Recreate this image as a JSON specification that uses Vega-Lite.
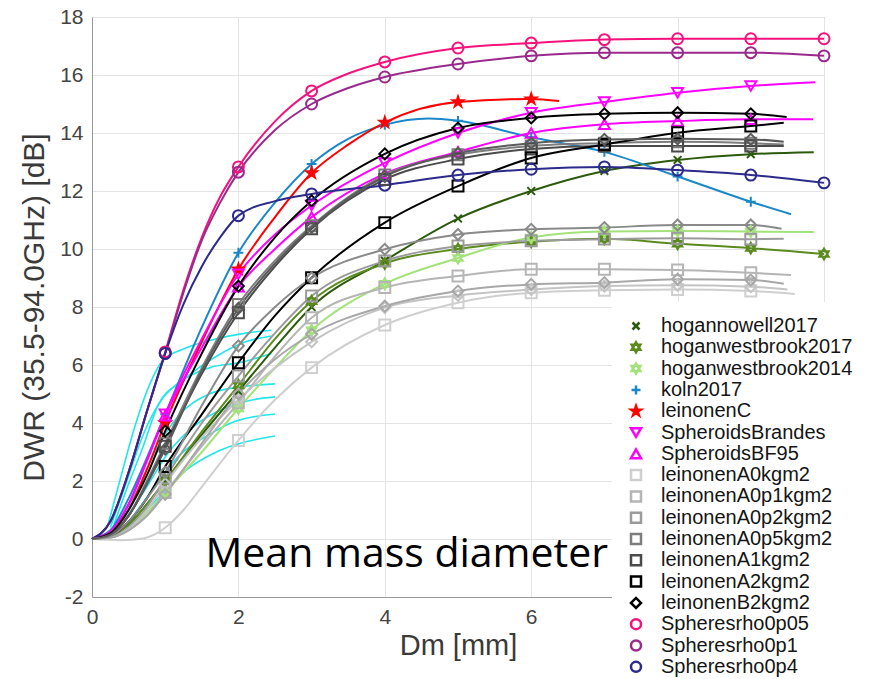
{
"$schema": "https://vega.github.io/schema/vega-lite/v6.json",
"width": 732, "height": 580,
"autosize": {"type": "none"},
"padding": {"left": 92, "top": 17, "right": 49, "bottom": 82},
"background": "white",
"config": {"view": {"stroke": "#a8a8a8", "strokeWidth": 1},
 "legend": {"orient": "none", "legendX": 520, "legendY": 285, "fillColor": "white", "padding": 14,
  "labelFont": "Liberation Sans", "labelFontSize": 20, "labelColor": "#151515", "labelOffset": 15, "labelLimit": 400,
  "symbolSize": 100, "symbolStrokeWidth": 2.5, "rowPadding": 1.3}},
"datasets": {
"curves": [
{"series":"hogannowell2017","Dm":0,"DWR":0},{"series":"hogannowell2017","Dm":0.25,"DWR":0.1},{"series":"hogannowell2017","Dm":0.5,"DWR":0.5},{"series":"hogannowell2017","Dm":0.75,"DWR":1.2},{"series":"hogannowell2017","Dm":1,"DWR":2.0},{"series":"hogannowell2017","Dm":1.5,"DWR":3.6},{"series":"hogannowell2017","Dm":2,"DWR":5.1},{"series":"hogannowell2017","Dm":2.5,"DWR":6.6},{"series":"hogannowell2017","Dm":3,"DWR":8.0},{"series":"hogannowell2017","Dm":4,"DWR":9.6},{"series":"hogannowell2017","Dm":5,"DWR":11.05},{"series":"hogannowell2017","Dm":6,"DWR":12.0},{"series":"hogannowell2017","Dm":7,"DWR":12.69},{"series":"hogannowell2017","Dm":8,"DWR":13.07},{"series":"hogannowell2017","Dm":9,"DWR":13.27},{"series":"hogannowell2017","Dm":9.86,"DWR":13.34},
{"series":"hoganwestbrook2017","Dm":0,"DWR":0},{"series":"hoganwestbrook2017","Dm":0.25,"DWR":0.1},{"series":"hoganwestbrook2017","Dm":0.5,"DWR":0.5},{"series":"hoganwestbrook2017","Dm":0.75,"DWR":1.2},{"series":"hoganwestbrook2017","Dm":1,"DWR":2.0},{"series":"hoganwestbrook2017","Dm":1.5,"DWR":3.7},{"series":"hoganwestbrook2017","Dm":2,"DWR":5.3},{"series":"hoganwestbrook2017","Dm":2.5,"DWR":6.9},{"series":"hoganwestbrook2017","Dm":3,"DWR":8.2},{"series":"hoganwestbrook2017","Dm":4,"DWR":9.5},{"series":"hoganwestbrook2017","Dm":5,"DWR":10.0},{"series":"hoganwestbrook2017","Dm":6,"DWR":10.25},{"series":"hoganwestbrook2017","Dm":7,"DWR":10.35},{"series":"hoganwestbrook2017","Dm":8,"DWR":10.18},{"series":"hoganwestbrook2017","Dm":9,"DWR":10.03},{"series":"hoganwestbrook2017","Dm":10,"DWR":9.83},
{"series":"hoganwestbrook2014","Dm":0,"DWR":0},{"series":"hoganwestbrook2014","Dm":0.25,"DWR":0.05},{"series":"hoganwestbrook2014","Dm":0.5,"DWR":0.35},{"series":"hoganwestbrook2014","Dm":0.75,"DWR":0.9},{"series":"hoganwestbrook2014","Dm":1,"DWR":1.6},{"series":"hoganwestbrook2014","Dm":1.5,"DWR":3.0},{"series":"hoganwestbrook2014","Dm":2,"DWR":4.5},{"series":"hoganwestbrook2014","Dm":2.5,"DWR":5.9},{"series":"hoganwestbrook2014","Dm":3,"DWR":7.2},{"series":"hoganwestbrook2014","Dm":4,"DWR":8.8},{"series":"hoganwestbrook2014","Dm":5,"DWR":9.69},{"series":"hoganwestbrook2014","Dm":6,"DWR":10.4},{"series":"hoganwestbrook2014","Dm":7,"DWR":10.6},{"series":"hoganwestbrook2014","Dm":8,"DWR":10.62},{"series":"hoganwestbrook2014","Dm":9,"DWR":10.6},{"series":"hoganwestbrook2014","Dm":9.86,"DWR":10.59},
{"series":"koln2017","Dm":0,"DWR":0},{"series":"koln2017","Dm":0.25,"DWR":0.3},{"series":"koln2017","Dm":0.5,"DWR":1.4},{"series":"koln2017","Dm":0.75,"DWR":2.8},{"series":"koln2017","Dm":1,"DWR":4.3},{"series":"koln2017","Dm":1.5,"DWR":7.3},{"series":"koln2017","Dm":2,"DWR":9.87},{"series":"koln2017","Dm":2.5,"DWR":11.6},{"series":"koln2017","Dm":3,"DWR":12.93},{"series":"koln2017","Dm":3.5,"DWR":13.8},{"series":"koln2017","Dm":4,"DWR":14.28},{"series":"koln2017","Dm":4.6,"DWR":14.5},{"series":"koln2017","Dm":5,"DWR":14.42},{"series":"koln2017","Dm":6,"DWR":13.85},{"series":"koln2017","Dm":7,"DWR":13.35},{"series":"koln2017","Dm":8,"DWR":12.5},{"series":"koln2017","Dm":9,"DWR":11.63},{"series":"koln2017","Dm":9.55,"DWR":11.2},
{"series":"leinonenC","Dm":0,"DWR":0},{"series":"leinonenC","Dm":0.25,"DWR":0.2},{"series":"leinonenC","Dm":0.5,"DWR":1.0},{"series":"leinonenC","Dm":0.75,"DWR":2.4},{"series":"leinonenC","Dm":1,"DWR":4.0},{"series":"leinonenC","Dm":1.5,"DWR":6.8},{"series":"leinonenC","Dm":2,"DWR":9.3},{"series":"leinonenC","Dm":2.5,"DWR":11.1},{"series":"leinonenC","Dm":3,"DWR":12.62},{"series":"leinonenC","Dm":3.5,"DWR":13.6},{"series":"leinonenC","Dm":4,"DWR":14.36},{"series":"leinonenC","Dm":5,"DWR":15.07},{"series":"leinonenC","Dm":6,"DWR":15.17},{"series":"leinonenC","Dm":6.38,"DWR":15.1},
{"series":"SpheroidsBrandes","Dm":0,"DWR":0},{"series":"SpheroidsBrandes","Dm":0.25,"DWR":0.25},{"series":"SpheroidsBrandes","Dm":0.5,"DWR":1.2},{"series":"SpheroidsBrandes","Dm":0.75,"DWR":2.7},{"series":"SpheroidsBrandes","Dm":1,"DWR":4.3},{"series":"SpheroidsBrandes","Dm":1.5,"DWR":6.9},{"series":"SpheroidsBrandes","Dm":2,"DWR":9.13},{"series":"SpheroidsBrandes","Dm":2.5,"DWR":10.5},{"series":"SpheroidsBrandes","Dm":3,"DWR":11.5},{"series":"SpheroidsBrandes","Dm":4,"DWR":12.97},{"series":"SpheroidsBrandes","Dm":5,"DWR":14.0},{"series":"SpheroidsBrandes","Dm":6,"DWR":14.7},{"series":"SpheroidsBrandes","Dm":7,"DWR":15.07},{"series":"SpheroidsBrandes","Dm":8,"DWR":15.39},{"series":"SpheroidsBrandes","Dm":9,"DWR":15.62},{"series":"SpheroidsBrandes","Dm":9.88,"DWR":15.75},
{"series":"SpheroidsBF95","Dm":0,"DWR":0},{"series":"SpheroidsBF95","Dm":0.25,"DWR":0.25},{"series":"SpheroidsBF95","Dm":0.5,"DWR":1.2},{"series":"SpheroidsBF95","Dm":0.75,"DWR":2.7},{"series":"SpheroidsBF95","Dm":1,"DWR":4.25},{"series":"SpheroidsBF95","Dm":1.5,"DWR":6.6},{"series":"SpheroidsBF95","Dm":2,"DWR":8.7},{"series":"SpheroidsBF95","Dm":2.5,"DWR":10.0},{"series":"SpheroidsBF95","Dm":3,"DWR":11.1},{"series":"SpheroidsBF95","Dm":4,"DWR":12.6},{"series":"SpheroidsBF95","Dm":5,"DWR":13.35},{"series":"SpheroidsBF95","Dm":6,"DWR":14.0},{"series":"SpheroidsBF95","Dm":7,"DWR":14.3},{"series":"SpheroidsBF95","Dm":8,"DWR":14.41},{"series":"SpheroidsBF95","Dm":9,"DWR":14.47},{"series":"SpheroidsBF95","Dm":9.85,"DWR":14.47},
{"series":"leinonenA0kgm2","Dm":0,"DWR":0},{"series":"leinonenA0kgm2","Dm":0.4,"DWR":-0.04},{"series":"leinonenA0kgm2","Dm":0.7,"DWR":0.02},{"series":"leinonenA0kgm2","Dm":0.85,"DWR":0.15},{"series":"leinonenA0kgm2","Dm":1,"DWR":0.39},{"series":"leinonenA0kgm2","Dm":1.25,"DWR":1.0},{"series":"leinonenA0kgm2","Dm":1.5,"DWR":1.8},{"series":"leinonenA0kgm2","Dm":2,"DWR":3.4},{"series":"leinonenA0kgm2","Dm":2.5,"DWR":4.8},{"series":"leinonenA0kgm2","Dm":3,"DWR":5.91},{"series":"leinonenA0kgm2","Dm":4,"DWR":7.38},{"series":"leinonenA0kgm2","Dm":5,"DWR":8.15},{"series":"leinonenA0kgm2","Dm":6,"DWR":8.49},{"series":"leinonenA0kgm2","Dm":7,"DWR":8.58},{"series":"leinonenA0kgm2","Dm":8,"DWR":8.6},{"series":"leinonenA0kgm2","Dm":9,"DWR":8.55},{"series":"leinonenA0kgm2","Dm":9.6,"DWR":8.45},
{"series":"leinonenA0p1kgm2","Dm":0,"DWR":0},{"series":"leinonenA0p1kgm2","Dm":0.25,"DWR":0.05},{"series":"leinonenA0p1kgm2","Dm":0.5,"DWR":0.3},{"series":"leinonenA0p1kgm2","Dm":0.75,"DWR":0.8},{"series":"leinonenA0p1kgm2","Dm":1,"DWR":1.6},{"series":"leinonenA0p1kgm2","Dm":1.5,"DWR":3.2},{"series":"leinonenA0p1kgm2","Dm":2,"DWR":4.7},{"series":"leinonenA0p1kgm2","Dm":2.5,"DWR":6.3},{"series":"leinonenA0p1kgm2","Dm":3,"DWR":7.63},{"series":"leinonenA0p1kgm2","Dm":4,"DWR":8.67},{"series":"leinonenA0p1kgm2","Dm":5,"DWR":9.07},{"series":"leinonenA0p1kgm2","Dm":6,"DWR":9.3},{"series":"leinonenA0p1kgm2","Dm":7,"DWR":9.3},{"series":"leinonenA0p1kgm2","Dm":8,"DWR":9.28},{"series":"leinonenA0p1kgm2","Dm":9,"DWR":9.18},{"series":"leinonenA0p1kgm2","Dm":9.55,"DWR":9.1},
{"series":"leinonenA0p2kgm2","Dm":0,"DWR":0},{"series":"leinonenA0p2kgm2","Dm":0.25,"DWR":0.07},{"series":"leinonenA0p2kgm2","Dm":0.5,"DWR":0.4},{"series":"leinonenA0p2kgm2","Dm":0.75,"DWR":1.1},{"series":"leinonenA0p2kgm2","Dm":1,"DWR":2.1},{"series":"leinonenA0p2kgm2","Dm":1.5,"DWR":4.0},{"series":"leinonenA0p2kgm2","Dm":2,"DWR":5.62},{"series":"leinonenA0p2kgm2","Dm":2.5,"DWR":7.1},{"series":"leinonenA0p2kgm2","Dm":3,"DWR":8.38},{"series":"leinonenA0p2kgm2","Dm":4,"DWR":9.59},{"series":"leinonenA0p2kgm2","Dm":5,"DWR":10.1},{"series":"leinonenA0p2kgm2","Dm":6,"DWR":10.28},{"series":"leinonenA0p2kgm2","Dm":7,"DWR":10.34},{"series":"leinonenA0p2kgm2","Dm":8,"DWR":10.37},{"series":"leinonenA0p2kgm2","Dm":9,"DWR":10.34},{"series":"leinonenA0p2kgm2","Dm":9.45,"DWR":10.35},
{"series":"leinonenA0p5kgm2","Dm":0,"DWR":0},{"series":"leinonenA0p5kgm2","Dm":0.25,"DWR":0.15},{"series":"leinonenA0p5kgm2","Dm":0.5,"DWR":0.8},{"series":"leinonenA0p5kgm2","Dm":0.75,"DWR":2.0},{"series":"leinonenA0p5kgm2","Dm":1,"DWR":3.3},{"series":"leinonenA0p5kgm2","Dm":1.5,"DWR":5.9},{"series":"leinonenA0p5kgm2","Dm":2,"DWR":8.09},{"series":"leinonenA0p5kgm2","Dm":2.5,"DWR":9.6},{"series":"leinonenA0p5kgm2","Dm":3,"DWR":10.8},{"series":"leinonenA0p5kgm2","Dm":4,"DWR":12.55},{"series":"leinonenA0p5kgm2","Dm":5,"DWR":13.25},{"series":"leinonenA0p5kgm2","Dm":6,"DWR":13.55},{"series":"leinonenA0p5kgm2","Dm":7,"DWR":13.65},{"series":"leinonenA0p5kgm2","Dm":8,"DWR":13.7},{"series":"leinonenA0p5kgm2","Dm":9,"DWR":13.65},{"series":"leinonenA0p5kgm2","Dm":9.45,"DWR":13.6},
{"series":"leinonenA1kgm2","Dm":0,"DWR":0},{"series":"leinonenA1kgm2","Dm":0.25,"DWR":0.15},{"series":"leinonenA1kgm2","Dm":0.5,"DWR":0.8},{"series":"leinonenA1kgm2","Dm":0.75,"DWR":1.9},{"series":"leinonenA1kgm2","Dm":1,"DWR":3.2},{"series":"leinonenA1kgm2","Dm":1.5,"DWR":5.7},{"series":"leinonenA1kgm2","Dm":2,"DWR":7.8},{"series":"leinonenA1kgm2","Dm":2.5,"DWR":9.4},{"series":"leinonenA1kgm2","Dm":3,"DWR":10.7},{"series":"leinonenA1kgm2","Dm":4,"DWR":12.4},{"series":"leinonenA1kgm2","Dm":5,"DWR":13.1},{"series":"leinonenA1kgm2","Dm":6,"DWR":13.45},{"series":"leinonenA1kgm2","Dm":7,"DWR":13.55},{"series":"leinonenA1kgm2","Dm":8,"DWR":13.55},{"series":"leinonenA1kgm2","Dm":9,"DWR":13.55},{"series":"leinonenA1kgm2","Dm":9.45,"DWR":13.55},
{"series":"leinonenA2kgm2","Dm":0,"DWR":0},{"series":"leinonenA2kgm2","Dm":0.25,"DWR":0.1},{"series":"leinonenA2kgm2","Dm":0.5,"DWR":0.6},{"series":"leinonenA2kgm2","Dm":0.75,"DWR":1.4},{"series":"leinonenA2kgm2","Dm":1,"DWR":2.5},{"series":"leinonenA2kgm2","Dm":1.5,"DWR":4.3},{"series":"leinonenA2kgm2","Dm":2,"DWR":6.08},{"series":"leinonenA2kgm2","Dm":2.5,"DWR":7.7},{"series":"leinonenA2kgm2","Dm":3,"DWR":9.01},{"series":"leinonenA2kgm2","Dm":4,"DWR":10.91},{"series":"leinonenA2kgm2","Dm":5,"DWR":12.17},{"series":"leinonenA2kgm2","Dm":6,"DWR":13.14},{"series":"leinonenA2kgm2","Dm":7,"DWR":13.6},{"series":"leinonenA2kgm2","Dm":8,"DWR":14.01},{"series":"leinonenA2kgm2","Dm":9,"DWR":14.24},{"series":"leinonenA2kgm2","Dm":9.45,"DWR":14.35},
{"series":"leinonenB2kgm2","Dm":0,"DWR":0},{"series":"leinonenB2kgm2","Dm":0.25,"DWR":0.2},{"series":"leinonenB2kgm2","Dm":0.5,"DWR":1.0},{"series":"leinonenB2kgm2","Dm":0.75,"DWR":2.2},{"series":"leinonenB2kgm2","Dm":1,"DWR":3.72},{"series":"leinonenB2kgm2","Dm":1.5,"DWR":6.4},{"series":"leinonenB2kgm2","Dm":2,"DWR":8.72},{"series":"leinonenB2kgm2","Dm":2.5,"DWR":10.4},{"series":"leinonenB2kgm2","Dm":3,"DWR":11.66},{"series":"leinonenB2kgm2","Dm":4,"DWR":13.28},{"series":"leinonenB2kgm2","Dm":5,"DWR":14.17},{"series":"leinonenB2kgm2","Dm":6,"DWR":14.52},{"series":"leinonenB2kgm2","Dm":7,"DWR":14.66},{"series":"leinonenB2kgm2","Dm":8,"DWR":14.7},{"series":"leinonenB2kgm2","Dm":9,"DWR":14.66},{"series":"leinonenB2kgm2","Dm":9.49,"DWR":14.55},
{"series":"Spheresrho0p05","Dm":0,"DWR":0},{"series":"Spheresrho0p05","Dm":0.25,"DWR":0.6},{"series":"Spheresrho0p05","Dm":0.5,"DWR":2.3},{"series":"Spheresrho0p05","Dm":0.75,"DWR":4.4},{"series":"Spheresrho0p05","Dm":1,"DWR":6.45},{"series":"Spheresrho0p05","Dm":1.25,"DWR":8.6},{"series":"Spheresrho0p05","Dm":1.5,"DWR":10.4},{"series":"Spheresrho0p05","Dm":1.75,"DWR":11.8},{"series":"Spheresrho0p05","Dm":2,"DWR":12.83},{"series":"Spheresrho0p05","Dm":2.5,"DWR":14.4},{"series":"Spheresrho0p05","Dm":3,"DWR":15.45},{"series":"Spheresrho0p05","Dm":3.5,"DWR":16.05},{"series":"Spheresrho0p05","Dm":4,"DWR":16.45},{"series":"Spheresrho0p05","Dm":5,"DWR":16.93},{"series":"Spheresrho0p05","Dm":6,"DWR":17.1},{"series":"Spheresrho0p05","Dm":7,"DWR":17.22},{"series":"Spheresrho0p05","Dm":8,"DWR":17.25},{"series":"Spheresrho0p05","Dm":9,"DWR":17.25},{"series":"Spheresrho0p05","Dm":10,"DWR":17.25},
{"series":"Spheresrho0p1","Dm":0,"DWR":0},{"series":"Spheresrho0p1","Dm":0.25,"DWR":0.6},{"series":"Spheresrho0p1","Dm":0.5,"DWR":2.3},{"series":"Spheresrho0p1","Dm":0.75,"DWR":4.4},{"series":"Spheresrho0p1","Dm":1,"DWR":6.4},{"series":"Spheresrho0p1","Dm":1.25,"DWR":8.5},{"series":"Spheresrho0p1","Dm":1.5,"DWR":10.3},{"series":"Spheresrho0p1","Dm":1.75,"DWR":11.6},{"series":"Spheresrho0p1","Dm":2,"DWR":12.65},{"series":"Spheresrho0p1","Dm":2.5,"DWR":14.1},{"series":"Spheresrho0p1","Dm":3,"DWR":15.0},{"series":"Spheresrho0p1","Dm":3.5,"DWR":15.55},{"series":"Spheresrho0p1","Dm":4,"DWR":15.93},{"series":"Spheresrho0p1","Dm":5,"DWR":16.38},{"series":"Spheresrho0p1","Dm":6,"DWR":16.66},{"series":"Spheresrho0p1","Dm":7,"DWR":16.77},{"series":"Spheresrho0p1","Dm":8,"DWR":16.77},{"series":"Spheresrho0p1","Dm":9,"DWR":16.77},{"series":"Spheresrho0p1","Dm":10,"DWR":16.66},
{"series":"Spheresrho0p4","Dm":0,"DWR":0},{"series":"Spheresrho0p4","Dm":0.25,"DWR":0.6},{"series":"Spheresrho0p4","Dm":0.5,"DWR":2.3},{"series":"Spheresrho0p4","Dm":0.75,"DWR":4.4},{"series":"Spheresrho0p4","Dm":1,"DWR":6.4},{"series":"Spheresrho0p4","Dm":1.25,"DWR":8.1},{"series":"Spheresrho0p4","Dm":1.5,"DWR":9.4},{"series":"Spheresrho0p4","Dm":1.75,"DWR":10.4},{"series":"Spheresrho0p4","Dm":2,"DWR":11.15},{"series":"Spheresrho0p4","Dm":2.5,"DWR":11.65},{"series":"Spheresrho0p4","Dm":3,"DWR":11.9},{"series":"Spheresrho0p4","Dm":4,"DWR":12.2},{"series":"Spheresrho0p4","Dm":5,"DWR":12.55},{"series":"Spheresrho0p4","Dm":6,"DWR":12.75},{"series":"Spheresrho0p4","Dm":7,"DWR":12.83},{"series":"Spheresrho0p4","Dm":8,"DWR":12.72},{"series":"Spheresrho0p4","Dm":9,"DWR":12.55},{"series":"Spheresrho0p4","Dm":10,"DWR":12.28},
{"series":"leinonenB0kgm2","Dm":0,"DWR":0},{"series":"leinonenB0kgm2","Dm":0.25,"DWR":0.05},{"series":"leinonenB0kgm2","Dm":0.5,"DWR":0.35},{"series":"leinonenB0kgm2","Dm":0.75,"DWR":1.0},{"series":"leinonenB0kgm2","Dm":1,"DWR":1.9},{"series":"leinonenB0kgm2","Dm":1.5,"DWR":3.5},{"series":"leinonenB0kgm2","Dm":2,"DWR":4.8},{"series":"leinonenB0kgm2","Dm":2.5,"DWR":5.9},{"series":"leinonenB0kgm2","Dm":3,"DWR":6.8},{"series":"leinonenB0kgm2","Dm":4,"DWR":7.98},{"series":"leinonenB0kgm2","Dm":5,"DWR":8.4},{"series":"leinonenB0kgm2","Dm":6,"DWR":8.6},{"series":"leinonenB0kgm2","Dm":7,"DWR":8.72},{"series":"leinonenB0kgm2","Dm":8,"DWR":8.75},{"series":"leinonenB0kgm2","Dm":9,"DWR":8.7},{"series":"leinonenB0kgm2","Dm":9.5,"DWR":8.6},
{"series":"leinonenB0p1kgm2","Dm":0,"DWR":0},{"series":"leinonenB0p1kgm2","Dm":0.25,"DWR":0.05},{"series":"leinonenB0p1kgm2","Dm":0.5,"DWR":0.3},{"series":"leinonenB0p1kgm2","Dm":0.75,"DWR":0.8},{"series":"leinonenB0p1kgm2","Dm":1,"DWR":1.54},{"series":"leinonenB0p1kgm2","Dm":1.5,"DWR":3.3},{"series":"leinonenB0p1kgm2","Dm":2,"DWR":5.0},{"series":"leinonenB0p1kgm2","Dm":2.5,"DWR":6.2},{"series":"leinonenB0p1kgm2","Dm":3,"DWR":7.06},{"series":"leinonenB0p1kgm2","Dm":4,"DWR":8.03},{"series":"leinonenB0p1kgm2","Dm":5,"DWR":8.55},{"series":"leinonenB0p1kgm2","Dm":6,"DWR":8.78},{"series":"leinonenB0p1kgm2","Dm":7,"DWR":8.84},{"series":"leinonenB0p1kgm2","Dm":8,"DWR":8.96},{"series":"leinonenB0p1kgm2","Dm":9,"DWR":8.93},{"series":"leinonenB0p1kgm2","Dm":9.45,"DWR":8.8},
{"series":"leinonenB0p5kgm2","Dm":0,"DWR":0},{"series":"leinonenB0p5kgm2","Dm":0.25,"DWR":0.1},{"series":"leinonenB0p5kgm2","Dm":0.5,"DWR":0.6},{"series":"leinonenB0p5kgm2","Dm":0.75,"DWR":1.4},{"series":"leinonenB0p5kgm2","Dm":1,"DWR":2.3},{"series":"leinonenB0p5kgm2","Dm":1.5,"DWR":4.6},{"series":"leinonenB0p5kgm2","Dm":2,"DWR":6.66},{"series":"leinonenB0p5kgm2","Dm":2.5,"DWR":8.0},{"series":"leinonenB0p5kgm2","Dm":3,"DWR":9.0},{"series":"leinonenB0p5kgm2","Dm":4,"DWR":9.99},{"series":"leinonenB0p5kgm2","Dm":5,"DWR":10.5},{"series":"leinonenB0p5kgm2","Dm":6,"DWR":10.68},{"series":"leinonenB0p5kgm2","Dm":7,"DWR":10.74},{"series":"leinonenB0p5kgm2","Dm":8,"DWR":10.83},{"series":"leinonenB0p5kgm2","Dm":9,"DWR":10.83},{"series":"leinonenB0p5kgm2","Dm":9.42,"DWR":10.7},
{"series":"leinonenB1kgm2","Dm":0,"DWR":0},{"series":"leinonenB1kgm2","Dm":0.25,"DWR":0.15},{"series":"leinonenB1kgm2","Dm":0.5,"DWR":0.8},{"series":"leinonenB1kgm2","Dm":0.75,"DWR":1.9},{"series":"leinonenB1kgm2","Dm":1,"DWR":3.1},{"series":"leinonenB1kgm2","Dm":1.5,"DWR":5.8},{"series":"leinonenB1kgm2","Dm":2,"DWR":7.95},{"series":"leinonenB1kgm2","Dm":2.5,"DWR":9.5},{"series":"leinonenB1kgm2","Dm":3,"DWR":10.75},{"series":"leinonenB1kgm2","Dm":4,"DWR":12.5},{"series":"leinonenB1kgm2","Dm":5,"DWR":13.3},{"series":"leinonenB1kgm2","Dm":6,"DWR":13.65},{"series":"leinonenB1kgm2","Dm":7,"DWR":13.78},{"series":"leinonenB1kgm2","Dm":8,"DWR":13.8},{"series":"leinonenB1kgm2","Dm":9,"DWR":13.78},{"series":"leinonenB1kgm2","Dm":9.45,"DWR":13.7}
],
"cyan": [
{"run":"c1","Dm":0.22,"DWR":0.5},{"run":"c1","Dm":0.4,"DWR":2.2},{"run":"c1","Dm":0.6,"DWR":4.0},{"run":"c1","Dm":0.8,"DWR":5.4},{"run":"c1","Dm":0.95,"DWR":6.1},{"run":"c1","Dm":1.3,"DWR":6.6},{"run":"c1","Dm":1.7,"DWR":6.9},{"run":"c1","Dm":2.1,"DWR":7.1},{"run":"c1","Dm":2.45,"DWR":7.2},
{"run":"c2","Dm":0.3,"DWR":0.5},{"run":"c2","Dm":0.5,"DWR":1.9},{"run":"c2","Dm":0.7,"DWR":3.2},{"run":"c2","Dm":0.9,"DWR":4.6},{"run":"c2","Dm":1.2,"DWR":5.4},{"run":"c2","Dm":1.6,"DWR":5.9},{"run":"c2","Dm":2.05,"DWR":6.1},{"run":"c2","Dm":2.45,"DWR":6.4},
{"run":"c3","Dm":0.35,"DWR":0.5},{"run":"c3","Dm":0.6,"DWR":1.6},{"run":"c3","Dm":0.9,"DWR":3.2},{"run":"c3","Dm":1.2,"DWR":4.3},{"run":"c3","Dm":1.6,"DWR":5.0},{"run":"c3","Dm":2.05,"DWR":5.25},{"run":"c3","Dm":2.5,"DWR":5.35},
{"run":"c4","Dm":0.4,"DWR":0.5},{"run":"c4","Dm":0.7,"DWR":1.6},{"run":"c4","Dm":1.05,"DWR":3.0},{"run":"c4","Dm":1.4,"DWR":3.9},{"run":"c4","Dm":1.8,"DWR":4.5},{"run":"c4","Dm":2.2,"DWR":4.8},{"run":"c4","Dm":2.5,"DWR":4.9},
{"run":"c5","Dm":0.45,"DWR":0.4},{"run":"c5","Dm":0.8,"DWR":1.6},{"run":"c5","Dm":1.2,"DWR":2.9},{"run":"c5","Dm":1.6,"DWR":3.6},{"run":"c5","Dm":1.95,"DWR":4.05},{"run":"c5","Dm":2.3,"DWR":4.25},{"run":"c5","Dm":2.5,"DWR":4.3},
{"run":"c6","Dm":0.5,"DWR":0.4},{"run":"c6","Dm":0.9,"DWR":1.4},{"run":"c6","Dm":1.3,"DWR":2.4},{"run":"c6","Dm":1.7,"DWR":3.0},{"run":"c6","Dm":2.1,"DWR":3.35},{"run":"c6","Dm":2.5,"DWR":3.55},
{"run":"c7","Dm":0.25,"DWR":0.4},{"run":"c7","Dm":0.45,"DWR":1.8},{"run":"c7","Dm":0.7,"DWR":3.6},{"run":"c7","Dm":0.95,"DWR":4.8},{"run":"c7","Dm":1.3,"DWR":5.6},{"run":"c7","Dm":1.7,"DWR":6.3},{"run":"c7","Dm":2.1,"DWR":6.8},{"run":"c7","Dm":2.45,"DWR":7.0}
],
"note": [{"label":"Mean mass diameter","Dm":1.55,"DWR":-0.97}]
},
"layer": [
{
"data": {"name": "cyan"},
"mark": {"type": "line", "interpolate": "monotone", "color": "#22e6ea", "strokeWidth": 1.6},
"encoding": {
"x": {"field": "Dm", "type": "quantitative", "scale": {"domain": [0, 10], "nice": false},
 "axis": {"title": "Dm [mm]", "values": [0,2,4,6,8,10], "labelExpr": "datum.value <= 6 ? datum.value + '' : ''", "labelFlush": false, "grid": true, "gridColor": "#e4e4e4", "ticks": false, "domainColor": "#9a9a9a",
  "labelFont": "Liberation Sans", "labelFontSize": 21, "labelColor": "#444444", "labelPadding": 9,
  "titleFont": "Liberation Sans", "titleFontSize": 29, "titleFontWeight": "normal", "titleColor": "#3a3a3a", "titlePadding": 4}},
"y": {"field": "DWR", "type": "quantitative", "scale": {"domain": [-2, 18], "nice": false},
 "axis": {"title": "DWR (35.5-94.0GHz) [dB]", "values": [-2,0,2,4,6,8,10,12,14,16,18], "labelExpr": "datum.value + ''", "labelFlush": false, "grid": true, "gridColor": "#e4e4e4", "ticks": false, "domainColor": "#9a9a9a",
  "labelFont": "Liberation Sans", "labelFontSize": 21, "labelColor": "#444444", "labelPadding": 9,
  "titleFont": "Liberation Sans", "titleFontSize": 30, "titleFontWeight": "normal", "titleColor": "#3a3a3a", "titlePadding": 10}},
"detail": {"field": "run"}
}
},
{
"data": {"name": "curves"},
"mark": {"type": "line", "interpolate": "monotone", "strokeWidth": 2},
"encoding": {
"x": {"field": "Dm", "type": "quantitative"},
"y": {"field": "DWR", "type": "quantitative"},
"color": {"field": "series", "type": "nominal", "legend": null,
 "scale": {"domain": ["leinonenB0kgm2","leinonenB0p1kgm2","leinonenB0p5kgm2","leinonenB1kgm2","hogannowell2017","hoganwestbrook2017","hoganwestbrook2014","koln2017","leinonenC","SpheroidsBrandes","SpheroidsBF95","leinonenA0kgm2","leinonenA0p1kgm2","leinonenA0p2kgm2","leinonenA0p5kgm2","leinonenA1kgm2","leinonenA2kgm2","leinonenB2kgm2","Spheresrho0p05","Spheresrho0p1","Spheresrho0p4"],
  "range": ["#c4c4c4","#a8a8a8","#8a8a8a","#5a5a5a","#2b5a0c","#5b8a1e","#a3e27a","#1a87c9","#ff0000","#ff00ff","#ff00ff","#cfcfcf","#b5b5b5","#9b9b9b","#7d7d7d","#4a4a4a","#000000","#000000","#f5127d","#992a8c","#2c2a8a"]}}
}
},
{
"data": {"name": "curves"},
"transform": [{"filter": "datum.Dm === floor(datum.Dm) && datum.Dm > 0"}],
"mark": {"type": "point", "filled": false, "strokeWidth": 2, "size": 120, "opacity": 1},
"encoding": {
"x": {"field": "Dm", "type": "quantitative"},
"y": {"field": "DWR", "type": "quantitative"},
"stroke": {"field": "series", "type": "nominal",
 "legend": {"title": null, "values": ["hogannowell2017","hoganwestbrook2017","hoganwestbrook2014","koln2017","leinonenC","SpheroidsBrandes","SpheroidsBF95","leinonenA0kgm2","leinonenA0p1kgm2","leinonenA0p2kgm2","leinonenA0p5kgm2","leinonenA1kgm2","leinonenA2kgm2","leinonenB2kgm2","Spheresrho0p05","Spheresrho0p1","Spheresrho0p4"]},
 "scale": {"domain": ["hogannowell2017","hoganwestbrook2017","hoganwestbrook2014","koln2017","leinonenC","SpheroidsBrandes","SpheroidsBF95","leinonenA0kgm2","leinonenA0p1kgm2","leinonenA0p2kgm2","leinonenA0p5kgm2","leinonenA1kgm2","leinonenA2kgm2","leinonenB2kgm2","Spheresrho0p05","Spheresrho0p1","Spheresrho0p4","leinonenB0kgm2","leinonenB0p1kgm2","leinonenB0p5kgm2","leinonenB1kgm2"],
  "range": ["#2b5a0c","#5b8a1e","#a3e27a","#1a87c9","#ff0000","#ff00ff","#ff00ff","#cfcfcf","#b5b5b5","#9b9b9b","#7d7d7d","#4a4a4a","#000000","#000000","#f5127d","#992a8c","#2c2a8a","#c4c4c4","#a8a8a8","#8a8a8a","#5a5a5a"]}},
"fill": {"field": "series", "type": "nominal",
 "legend": {"title": null, "values": ["hogannowell2017","hoganwestbrook2017","hoganwestbrook2014","koln2017","leinonenC","SpheroidsBrandes","SpheroidsBF95","leinonenA0kgm2","leinonenA0p1kgm2","leinonenA0p2kgm2","leinonenA0p5kgm2","leinonenA1kgm2","leinonenA2kgm2","leinonenB2kgm2","Spheresrho0p05","Spheresrho0p1","Spheresrho0p4"]},
 "scale": {"domain": ["hogannowell2017","hoganwestbrook2017","hoganwestbrook2014","koln2017","leinonenC","SpheroidsBrandes","SpheroidsBF95","leinonenA0kgm2","leinonenA0p1kgm2","leinonenA0p2kgm2","leinonenA0p5kgm2","leinonenA1kgm2","leinonenA2kgm2","leinonenB2kgm2","Spheresrho0p05","Spheresrho0p1","Spheresrho0p4","leinonenB0kgm2","leinonenB0p1kgm2","leinonenB0p5kgm2","leinonenB1kgm2"],
  "range": ["transparent","#5b8a1e","#a3e27a","transparent","#ff0000","transparent","transparent","transparent","transparent","transparent","transparent","transparent","transparent","transparent","transparent","transparent","transparent","transparent","transparent","transparent","transparent"]}},
"shape": {"field": "series", "type": "nominal",
 "legend": {"title": null, "values": ["hogannowell2017","hoganwestbrook2017","hoganwestbrook2014","koln2017","leinonenC","SpheroidsBrandes","SpheroidsBF95","leinonenA0kgm2","leinonenA0p1kgm2","leinonenA0p2kgm2","leinonenA0p5kgm2","leinonenA1kgm2","leinonenA2kgm2","leinonenB2kgm2","Spheresrho0p05","Spheresrho0p1","Spheresrho0p4"]},
 "scale": {"domain": ["hogannowell2017","hoganwestbrook2017","hoganwestbrook2014","koln2017","leinonenC","SpheroidsBrandes","SpheroidsBF95","leinonenA0kgm2","leinonenA0p1kgm2","leinonenA0p2kgm2","leinonenA0p5kgm2","leinonenA1kgm2","leinonenA2kgm2","leinonenB2kgm2","Spheresrho0p05","Spheresrho0p1","Spheresrho0p4","leinonenB0kgm2","leinonenB0p1kgm2","leinonenB0p5kgm2","leinonenB1kgm2"],
  "range": ["M-0.7,-0.7L0.7,0.7M-0.7,0.7L0.7,-0.7","M0,-1L0.866,0.5L-0.866,0.5ZM0,1L0.866,-0.5L-0.866,-0.5Z","M0,-1L0.866,0.5L-0.866,0.5ZM0,1L0.866,-0.5L-0.866,-0.5Z","M-0.9,0L0.9,0M0,-0.9L0,0.9","M0,-1L0.225,-0.309L0.951,-0.309L0.363,0.118L0.588,0.809L0,0.382L-0.588,0.809L-0.363,0.118L-0.951,-0.309L-0.225,-0.309Z","triangle-down","triangle-up","square","square","square","square","square","square","diamond","circle","circle","circle","diamond","diamond","diamond","diamond"]}}
}
},
{
"data": {"name": "note"},
"mark": {"type": "text", "align": "left", "baseline": "alphabetic", "font": "Open Sans", "fontSize": 41, "color": "#000000"},
"encoding": {
"x": {"field": "Dm", "type": "quantitative"},
"y": {"field": "DWR", "type": "quantitative"},
"text": {"field": "label"}
}
}
]
}
